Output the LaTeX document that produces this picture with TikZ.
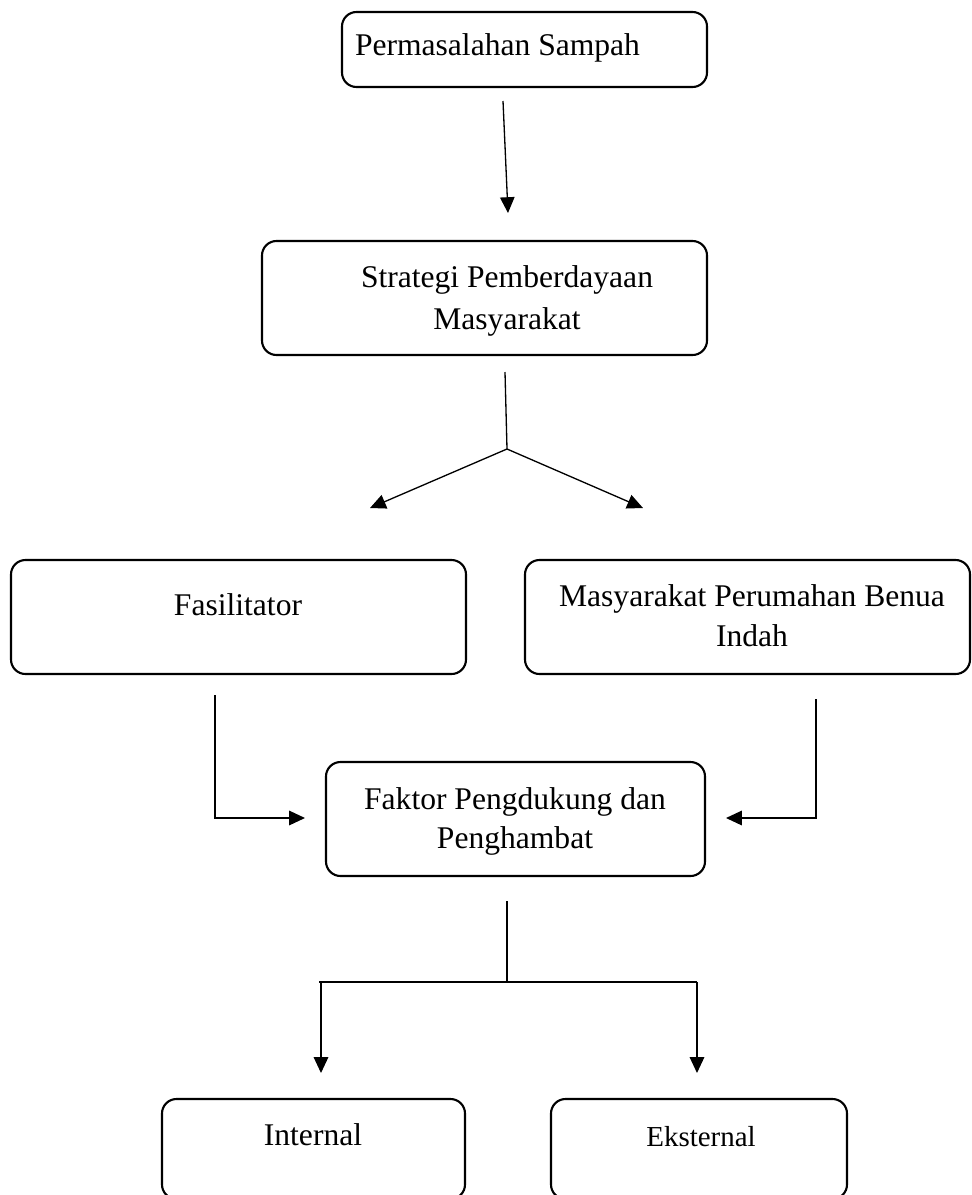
\documentclass[tikz,border=0pt]{standalone}
\usepackage{fontspec}
\setmainfont{Liberation Serif}
\usetikzlibrary{arrows.meta, calc}

\tikzset{
  box/.style 2 args={draw, line width=0.8pt, rounded corners=5.5pt, inner sep=0pt,
    minimum width=#1*0.38pt, minimum height=#2*0.38pt},
  lbl/.style={font=\fontsize{12}{15}\selectfont, inner sep=0pt, text height=0.69em, text depth=0.22em},
  lbl2/.style={font=\fontsize{12}{#1}\selectfont, inner sep=0pt, align=center},
  conn/.style={line width=0.5pt},
  arr/.style={conn, -{Triangle[length=6pt,width=5.5pt]}}
}

\begin{document}
\begin{tikzpicture}[x=0.38pt, y=-0.38pt]
  \clip (0,0) rectangle (971,1195);

  % Boxes
  \node[box={365}{75}]  (perm)     at (524.5,49.5) {};
  \node[box={445}{114}] (strategi) at (484.5,298) {};
  \node[box={455}{114}] (fasil)    at (238.5,617) {};
  \node[box={445}{114}] (masy)     at (747.5,617) {};
  \node[box={379}{114}] (faktor)   at (515.5,819) {};
  \node[box={303}{100}] (internal) at (313.5,1149) {};
  \node[box={296}{100}] (eksternal) at (699,1149) {};

  % Labels
  \node[lbl] (permtxt) at (497.5,49.6) {Permasalahan Sampah};
  \node[lbl2=16pt] (strategitxt) at (507,300.6) {Strategi Pemberdayaan\\Masyarakat};
  \node[lbl] (fasiltxt) at (238,609.6) {Fasilitator};
  \node[lbl2=15.2pt] (masytxt) at (752,616) {Masyarakat Perumahan Benua\\Indah};
  \node[lbl2=14.8pt] (faktortxt) at (515,821) {Faktor Pengdukung dan\\Penghambat};
  \node[lbl] (internaltxt) at (313,1139.6) {Internal};
  \node[lbl, font=\fontsize{11}{14}\selectfont] (eksternaltxt) at (701,1140) {Eksternal};

  % Connector ends
  \coordinate (p1) at (503,101);
  \coordinate (p2) at (508,213);
  \coordinate (s1) at (505,372);
  \coordinate (s2) at (507,449);
  \coordinate (sl) at (370,508);
  \coordinate (sr) at (643,508);
  \coordinate (f1) at (215,695);
  \coordinate (f2) at (215,818);
  \coordinate (f3) at (305,818);
  \coordinate (m1) at (816,699);
  \coordinate (m2) at (816,818);
  \coordinate (m3) at (726,818);
  \coordinate (k1) at (507,901);
  \coordinate (k2) at (507,982);
  \coordinate (kl) at (319,982);
  \coordinate (kr) at (697,982);
  \coordinate (kl1) at (321,982);
  \coordinate (kl2) at (321,1073);
  \coordinate (kr2) at (697,1073);

  % Arrows
  \draw[arr] (p1) -- (p2);
  \draw[conn] (s1) -- (s2);
  \draw[arr] (s2) -- (sl);
  \draw[arr] (s2) -- (sr);
  \draw[arr] (f1) -- (f2) -- (f3);
  \draw[arr] (m1) -- (m2) -- (m3);
  \draw[conn] (k1) -- (k2);
  \draw[conn] (kl) -- (kr);
  \draw[arr] (kl1) -- (kl2);
  \draw[arr] (kr) -- (kr2);
\end{tikzpicture}
\end{document}
